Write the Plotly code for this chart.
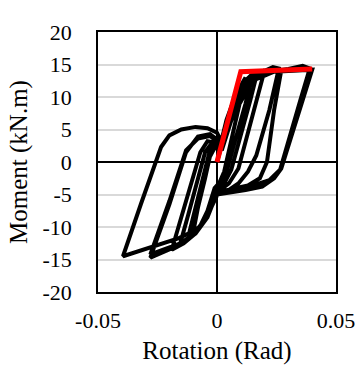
import plotly.graph_objects as go

# Hysteresis path (rotation in rad, moment in kN.m)
rot = [0.0, 0.004, 0.008, 0.012,
       0.009, 0.005, 0.003, 0.001, -0.001,
       -0.004, -0.007, -0.010,
       -0.008, -0.005, -0.003, -0.001, 0.001,
       # cycle 2
       0.004, 0.009, 0.015,
       0.012, 0.007, 0.004, 0.002, 0.0,
       -0.004, -0.008, -0.012,
       -0.009, -0.005, -0.003, -0.001, 0.001,
       # cycle 3
       0.005, 0.010, 0.014, 0.017,
       0.014, 0.009, 0.006, 0.003, 0.0,
       -0.004, -0.008, -0.012, -0.0155,
       -0.012, -0.008, -0.005, -0.002, 0.001,
       # cycle 4
       0.005, 0.011, 0.016, 0.020,
       0.017, 0.012, 0.009, 0.005, 0.001,
       -0.004, -0.009, -0.014, -0.019,
       -0.015, -0.010, -0.007, -0.004, -0.001, 0.001,
       # cycle 5
       0.006, 0.012, 0.018, 0.0235, 0.026,
       0.022, 0.0165, 0.013, 0.009, 0.005, 0.0,
       -0.004, -0.009, -0.016, -0.022, -0.028,
       -0.020, -0.013, -0.008, -0.003, 0.0, 0.002,
       # cycle 6
       0.006, 0.012, 0.018, 0.027,
       0.024, 0.021, 0.018, 0.013, 0.006, 0.0,
       -0.004, -0.009, -0.016, -0.022, -0.028,
       -0.020, -0.013, -0.008, -0.003, 0.0, 0.002,
       # cycle 7
       0.007, 0.014, 0.022, 0.030, 0.036, 0.039,
       0.035, 0.030, 0.0265, 0.022, 0.018, 0.012, 0.005, 0.0,
       -0.003, -0.008, -0.016, -0.028, -0.0395,
       -0.032, -0.0235, -0.020, -0.015, -0.009, -0.004, 0.0, 0.002,
       # cycle 8
       0.008, 0.015, 0.024, 0.040,
       0.036, 0.031, 0.027, 0.024, 0.019, 0.012, 0.005, 0.0]

moment = [0.0, 5.5, 10.5, 13.0,
          8.0, 2.0, -1.5, -3.2, -4.0,
          -7.5, -9.8, -10.8,
          -7.0, -2.5, 0.8, 2.2, 2.0,
          # cycle 2
          6.5, 11.5, 13.6,
          9.0, 2.5, -1.5, -3.2, -4.2,
          -8.0, -10.5, -11.4,
          -7.0, -1.5, 1.8, 2.8, 2.2,
          # cycle 3
          6.5, 11.5, 13.2, 13.9,
          9.5, 2.5, -1.2, -3.3, -4.4,
          -8.0, -10.5, -11.8, -12.6,
          -8.0, -2.5, 1.5, 3.0, 2.3,
          # cycle 4
          6.5, 12.0, 13.5, 14.1,
          10.0, 3.0, -1.0, -3.3, -4.4,
          -8.2, -11.0, -12.5, -13.5,
          -8.5, -2.5, 1.5, 3.2, 3.0, 2.2,
          # cycle 5
          7.0, 12.0, 13.7, 14.6, 14.4,
          8.0, 1.0, -1.5, -3.3, -4.3, -4.8,
          -8.5, -11.0, -12.8, -13.8, -14.7,
          -6.5, 1.5, 3.9, 4.3, 3.5, 2.0,
          # cycle 6
          7.0, 12.0, 13.6, 14.1,
          8.0, 0.0, -2.5, -3.6, -4.2, -4.6,
          -8.5, -11.0, -12.6, -13.4, -14.2,
          -6.0, 1.8, 3.6, 4.0, 3.2, 1.8,
          # cycle 7
          7.5, 12.5, 13.9, 14.3, 14.8, 14.4,
          9.5, 3.5, -1.2, -2.8, -3.3, -4.0, -4.6, -5.0,
          -7.5, -10.3, -11.7, -13.2, -14.5,
          -6.5, 2.3, 4.1, 5.0, 5.4, 5.2, 4.5, 3.0,
          # cycle 8
          8.0, 12.5, 13.9, 14.2,
          9.5, 3.5, -1.0, -2.5, -3.8, -4.3, -4.7, -5.0]

# Bilinear envelope (red)
env_rot = [0.0, 0.010, 0.040]
env_moment = [0.0, 13.9, 14.3]

x_tickvals = [-0.05, 0.0, 0.05]
x_ticktext = ["-0.05", "0", "0.05"]
y_tickvals = [-20, -15, -10, -5, 0, 5, 10, 15, 20]
y_ticktext = ["-20", "-15", "-10", "-5", "0", "5", "10", "15", "20"]

fig = go.Figure()
fig.add_trace(go.Scatter(x=rot, y=moment, mode="lines",
                         line=dict(color="black", width=4),
                         showlegend=False, hoverinfo="skip"))
fig.add_trace(go.Scatter(x=env_rot, y=env_moment, mode="lines",
                         line=dict(color="#ff0000", width=5),
                         showlegend=False, hoverinfo="skip"))

font_family = "Liberation Serif"
fig.update_layout(
    width=359, height=371,
    margin=dict(l=98, r=23, t=32, b=79),
    paper_bgcolor="white", plot_bgcolor="white",
    font=dict(family=font_family, color="black", size=22),
    xaxis=dict(range=[-0.05, 0.05], tickvals=x_tickvals, ticktext=x_ticktext,
               automargin=False,
               showgrid=False, zeroline=True, zerolinecolor="black", zerolinewidth=1.5,
               showline=True, mirror=True, linecolor="black", linewidth=1.5,
               ticks="", ticklabelstandoff=8,
               tickfont=dict(size=22, family=font_family, color="black"),
               title=dict(text="Rotation (Rad)", font=dict(size=25, family=font_family, color="black"), standoff=9)),
    yaxis=dict(range=[-20, 20], tickvals=y_tickvals, ticktext=y_ticktext,
               automargin=False,
               showgrid=True, gridcolor="#d9d9d9", gridwidth=1.5,
               zeroline=True, zerolinecolor="black", zerolinewidth=1.5,
               showline=True, mirror=True, linecolor="black", linewidth=1.5,
               ticks="", ticklabelstandoff=20,
               tickfont=dict(size=22, family=font_family, color="black"),
               title=dict(text="Moment (kN.m)", font=dict(size=25, family=font_family, color="black"), standoff=8)),
)

fig.write_html("out.html")
